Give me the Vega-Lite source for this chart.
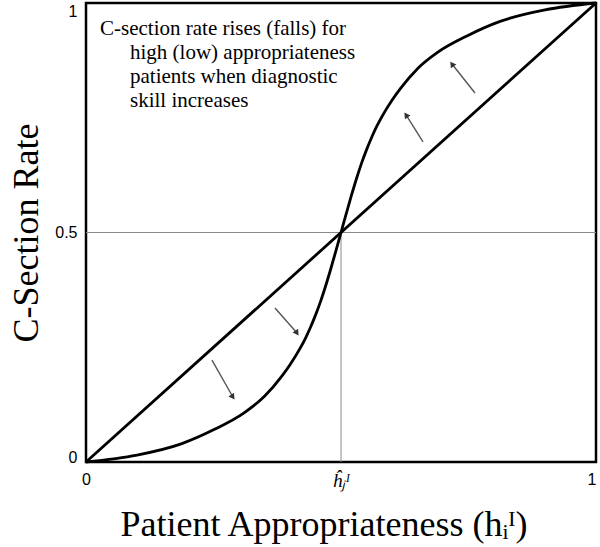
{
  "$schema": "https://vega.github.io/schema/vega-lite/v6.json",
  "width": 510,
  "height": 459,
  "autosize": "none",
  "padding": {"left": 86, "top": 3, "right": 4, "bottom": 85},
  "background": "white",
  "view": {"stroke": "black", "strokeWidth": 2.5},
  "config": {
    "axis": {"grid": false, "domain": false, "ticks": false, "labelFont": "Liberation Sans", "labelFontSize": 16, "labelColor": "black", "titleFont": "Liberation Serif", "titleFontWeight": "normal", "titleColor": "black"}
  },
  "datasets": {
    "curves": [
      {"series": "diag", "x": 0, "y": 0},
      {"series": "diag", "x": 1, "y": 1},
      {"series": "s", "x": 0, "y": 0},
      {"series": "s", "x": 0.1, "y": 0.015},
      {"series": "s", "x": 0.188, "y": 0.04},
      {"series": "s", "x": 0.25, "y": 0.07},
      {"series": "s", "x": 0.31, "y": 0.107},
      {"series": "s", "x": 0.35, "y": 0.143},
      {"series": "s", "x": 0.384, "y": 0.187},
      {"series": "s", "x": 0.4, "y": 0.212},
      {"series": "s", "x": 0.42, "y": 0.248},
      {"series": "s", "x": 0.43, "y": 0.269},
      {"series": "s", "x": 0.44, "y": 0.293},
      {"series": "s", "x": 0.45, "y": 0.32},
      {"series": "s", "x": 0.46, "y": 0.35},
      {"series": "s", "x": 0.47, "y": 0.384},
      {"series": "s", "x": 0.48, "y": 0.421},
      {"series": "s", "x": 0.49, "y": 0.46},
      {"series": "s", "x": 0.5, "y": 0.5},
      {"series": "s", "x": 0.51, "y": 0.54},
      {"series": "s", "x": 0.52, "y": 0.579},
      {"series": "s", "x": 0.53, "y": 0.616},
      {"series": "s", "x": 0.54, "y": 0.65},
      {"series": "s", "x": 0.55, "y": 0.68},
      {"series": "s", "x": 0.56, "y": 0.707},
      {"series": "s", "x": 0.57, "y": 0.731},
      {"series": "s", "x": 0.58, "y": 0.752},
      {"series": "s", "x": 0.6, "y": 0.788},
      {"series": "s", "x": 0.616, "y": 0.813},
      {"series": "s", "x": 0.65, "y": 0.857},
      {"series": "s", "x": 0.69, "y": 0.893},
      {"series": "s", "x": 0.75, "y": 0.93},
      {"series": "s", "x": 0.812, "y": 0.96},
      {"series": "s", "x": 0.9, "y": 0.985},
      {"series": "s", "x": 1, "y": 1}
    ],
    "arrows": [
      {"dir": "down", "x": 0.247, "y": 0.222, "x2": 0.288, "y2": 0.1416},
      {"dir": "down", "x": 0.3706, "y": 0.3355, "x2": 0.4137, "y2": 0.281},
      {"dir": "up", "x": 0.7627, "y": 0.804, "x2": 0.7176, "y2": 0.867},
      {"dir": "up", "x": 0.6608, "y": 0.6972, "x2": 0.6275, "y2": 0.756}
    ],
    "notes": [
      {"x": 0.0275, "y": 0.930, "text": "C-section rate rises (falls) for"},
      {"x": 0.0863, "y": 0.878, "text": "high (low) appropriateness"},
      {"x": 0.0863, "y": 0.826, "text": "patients when diagnostic"},
      {"x": 0.0863, "y": 0.773, "text": "skill increases"}
    ]
  },
  "layer": [
    {
      "data": {"values": [{"y": 0.5}]},
      "mark": {"type": "rule", "color": "#8a8a8a", "strokeWidth": 1},
      "encoding": {"y": {"field": "y", "type": "quantitative", "scale": {"domain": [0, 1], "nice": false}}}
    },
    {
      "data": {"values": [{"x": 0.5, "y": 0, "y2": 0.5}]},
      "mark": {"type": "rule", "color": "#8a8a8a", "strokeWidth": 1},
      "encoding": {
        "x": {"field": "x", "type": "quantitative"},
        "y": {"field": "y", "type": "quantitative"},
        "y2": {"field": "y2"}
      }
    },
    {
      "data": {"name": "curves"},
      "mark": {"type": "line", "color": "black", "strokeWidth": 2.8, "interpolate": "monotone"},
      "encoding": {
        "x": {"field": "x", "type": "quantitative", "scale": {"domain": [0, 1], "nice": false},
          "axis": {"values": [0, 0.5, 1], "labelPadding": 9,
            "labelExpr": "datum.value == 0 ? '0' : datum.value == 1 ? '1' : 'ĥⱼᴵ'",
            "labelAlign": {"condition": {"test": "datum.value == 1", "value": "right"}, "value": "center"},
            "labelFont": {"condition": {"test": "datum.value == 0.5", "value": "Liberation Serif"}, "value": "Liberation Sans"},
            "labelFontSize": {"condition": {"test": "datum.value == 0.5", "value": 19}, "value": 16},
            "labelFontStyle": {"condition": {"test": "datum.value == 0.5", "value": "italic"}, "value": "normal"},
            "title": "Patient Appropriateness (hᵢᴵ)", "titleFontSize": 36,
            "titleAlign": "left", "titleX": 34, "titleY": 73, "titleBaseline": "alphabetic"}},
        "y": {"field": "y", "type": "quantitative", "scale": {"domain": [0, 1], "nice": false},
          "axis": {"values": [0, 0.5, 1], "format": "~g", "labelPadding": 9,
            "labelBaseline": {"condition": [{"test": "datum.value == 1", "value": "top"}, {"test": "datum.value == 0", "value": "alphabetic"}], "value": "middle"},
            "title": "C-Section Rate", "titleFontSize": 36, "titleX": -49, "titleBaseline": "alphabetic"}},
        "detail": {"field": "series"}
      }
    },
    {
      "data": {"name": "arrows"},
      "mark": {"type": "rule", "color": "#555555", "strokeWidth": 1.4},
      "encoding": {
        "x": {"field": "x", "type": "quantitative"},
        "y": {"field": "y", "type": "quantitative"},
        "x2": {"field": "x2"},
        "y2": {"field": "y2"}
      }
    },
    {
      "data": {"name": "arrows"},
      "mark": {"type": "point", "filled": true, "color": "#333333", "size": 45, "angle": -35, "opacity": 1},
      "encoding": {
        "x": {"field": "x2", "type": "quantitative"},
        "y": {"field": "y2", "type": "quantitative"},
        "shape": {"field": "dir", "type": "nominal", "scale": {"domain": ["down", "up"], "range": ["triangle-down", "triangle-up"]}, "legend": null}
      }
    },
    {
      "data": {"name": "notes"},
      "mark": {"type": "text", "align": "left", "baseline": "alphabetic", "font": "Liberation Serif", "fontSize": 21, "color": "black"},
      "encoding": {
        "x": {"field": "x", "type": "quantitative"},
        "y": {"field": "y", "type": "quantitative"},
        "text": {"field": "text"}
      }
    }
  ]
}
